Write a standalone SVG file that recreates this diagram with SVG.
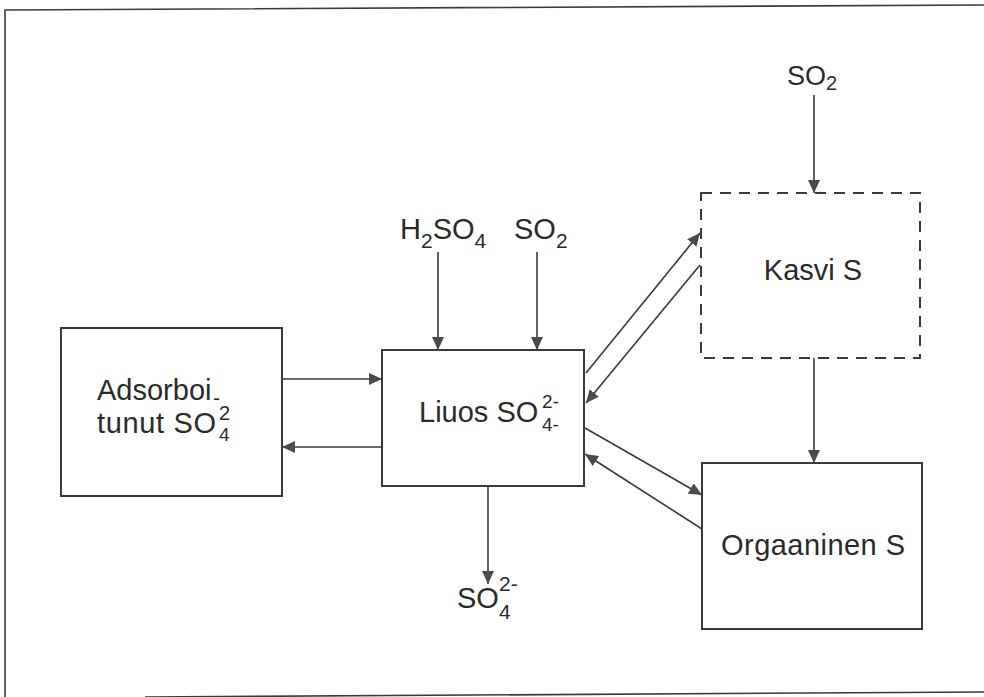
<svg xmlns="http://www.w3.org/2000/svg" width="984" height="697" viewBox="0 0 984 697">
<defs>
<marker id="ah" markerUnits="userSpaceOnUse" markerWidth="14" markerHeight="12" refX="13" refY="6" orient="auto">
<path d="M0,0 L13,6 L0,12 Z" fill="#4a4a4a"/>
</marker>
<style>
text{font-family:"Liberation Sans",Arial,sans-serif;fill:#2a2a2a}
.m{font-size:29px}
.s{font-size:21px}
.t{font-size:19px}
.box{fill:none;stroke:#3a3a3a;stroke-width:2}
.dash{fill:none;stroke:#3a3a3a;stroke-width:2;stroke-dasharray:11 8}
.c line{stroke:#3a3a3a;stroke-width:1.6;marker-end:url(#ah)}
.frame{stroke:#3a3a3a;stroke-width:1.6;fill:none}
</style>
</defs>
<rect width="984" height="697" fill="#fff"/>
<g id="frame">
<path class="frame" d="M5,697 L5,10 L984,5"/>
<path class="frame" d="M145,697 L984,692"/>
</g>
<g id="adsorboitunut">
<rect class="box" x="61" y="328" width="221" height="168"/>
<text class="m" x="97" y="400">Adsorboi<tspan class="s" x="213" y="405">-</tspan></text>
<text class="m" x="97" y="433" textLength="119" lengthAdjust="spacing">tunut SO</text>
<text class="t"><tspan x="219" y="420" style="font-size:20px">2</tspan><tspan x="219" y="441">4</tspan></text>
</g>
<g id="liuos">
<rect class="box" x="382" y="350" width="202" height="136"/>
<text class="m" x="419" y="422">Liuos SO</text>
<text class="t"><tspan x="542" y="408">2-</tspan><tspan x="542" y="431">4-</tspan></text>
</g>
<g id="kasvi">
<rect class="dash" x="701" y="193" width="219" height="165"/>
<text class="m" x="813" y="280" text-anchor="middle">Kasvi S</text>
</g>
<g id="orgaaninen">
<rect class="box" x="702" y="463" width="220" height="166"/>
<text class="m" x="721" y="555" textLength="184" lengthAdjust="spacing">Orgaaninen S</text>
</g>
<g id="h2so4">
<text class="m" x="400" y="239">H<tspan class="s" dy="9">2</tspan><tspan dy="-9">SO</tspan><tspan class="s" dy="9">4</tspan></text>
</g>
<g id="so2-mid">
<text class="m" x="514" y="239">SO<tspan class="s" dy="9">2</tspan></text>
</g>
<g id="so2-top">
<text x="787" y="85" style="font-size:27px">SO<tspan style="font-size:20px" dy="5">2</tspan></text>
</g>
<g id="so4-out">
<text class="m" x="457" y="608">SO</text>
<text class="s"><tspan x="499" y="591">2-</tspan><tspan x="499" y="619">4</tspan></text>
</g>
<g id="connectors" class="c">
<line x1="282" y1="379" x2="382" y2="379"/>
<line x1="382" y1="447" x2="282" y2="447"/>
<line x1="438" y1="252" x2="438" y2="350"/>
<line x1="537" y1="252" x2="537" y2="350"/>
<line x1="814" y1="95" x2="814" y2="193"/>
<line x1="814" y1="358" x2="814" y2="463"/>
<line x1="586" y1="373" x2="700" y2="233"/>
<line x1="700" y1="265" x2="586" y2="403"/>
<line x1="585" y1="428" x2="702" y2="495"/>
<line x1="702" y1="529" x2="585" y2="454"/>
<line x1="488" y1="486" x2="488" y2="584"/>
</g>
</svg>
